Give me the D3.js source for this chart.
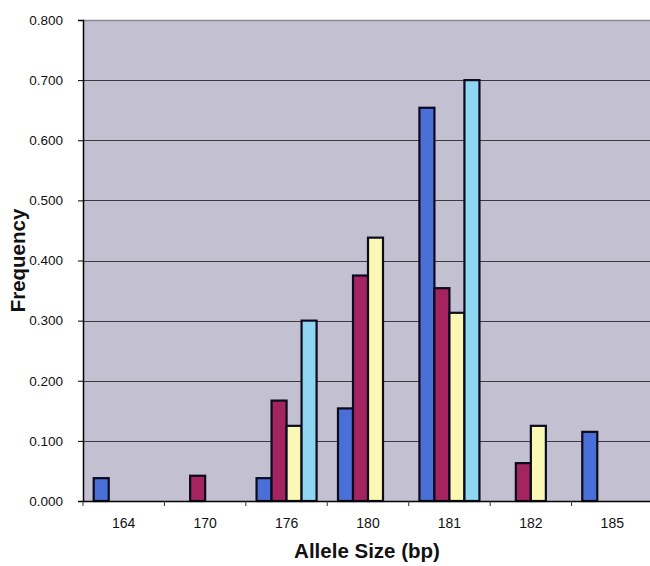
<!DOCTYPE html>
<html>
<head>
<meta charset="utf-8">
<script src="https://cdn.jsdelivr.net/npm/d3@7"></script>
<style>
  body { margin: 0; background: #fff; }
  text { font-family: "Liberation Sans", Arial, sans-serif; }
</style>
</head>
<body>
<div id="chart"></div>
<script>
// allele sizes on the x axis
const alleles = ["164", "170", "176", "180", "181", "182", "185"];
const seriesNames = ["s1", "s2", "s3", "s4"];
const colors = ["#4a6fd6", "#a3245e", "#fbf7b4", "#8fd6f2"];

// frequencies, one array per series
const s1 = [0.038, 0, 0.038, 0.154, 0.654, 0, 0.115];
const s2 = [0, 0.042, 0.167, 0.375, 0.354, 0.063, 0];
const s3 = [0, 0, 0.125, 0.438, 0.313, 0.125, 0];
const s4 = [0, 0, 0.300, 0, 0.700, 0, 0];
const values = [s1, s2, s3, s4];

const yTicks = [0, 0.1, 0.2, 0.3, 0.4, 0.5, 0.6, 0.7, 0.8];

const width = 650, height = 566;
const margin = {top: 20, right: -3, bottom: 65, left: 83};

const svg = d3.select("#chart").append("svg")
    .attr("width", width).attr("height", height);

const x0 = d3.scaleBand().domain(alleles)
    .range([margin.left, width - margin.right]);
const x1 = d3.scaleBand().domain(seriesNames)
    .range([10.7, x0.bandwidth() - 10.7]);
const y = d3.scaleLinear().domain([0, 0.8])
    .range([height - margin.bottom, margin.top]);

// plot background
svg.append("rect")
    .attr("x", margin.left).attr("y", margin.top)
    .attr("width", width - margin.left).attr("height", y(0) - margin.top)
    .attr("fill", "#c3c0d1");

// top edge
svg.append("line")
    .attr("x1", margin.left).attr("x2", width)
    .attr("y1", margin.top + 0.5).attr("y2", margin.top + 0.5)
    .attr("stroke", "#8c8a96").attr("stroke-width", 1.5);

// gridlines
svg.append("g").selectAll("line")
    .data(yTicks.slice(1, -1))
    .join("line")
    .attr("x1", margin.left).attr("x2", width)
    .attr("y1", d => Math.round(y(d)) + 0.5).attr("y2", d => Math.round(y(d)) + 0.5)
    .attr("stroke", "#3a3a40").attr("stroke-width", 1);

// bars
const groups = svg.append("g").selectAll("g")
    .data(alleles)
    .join("g")
    .attr("transform", d => `translate(${x0(d)},0)`);

groups.selectAll("rect")
    .data((d, i) => seriesNames.map((s, j) => ({s: s, j: j, v: values[j][i]})).filter(e => e.v > 0))
    .join("rect")
    .attr("x", d => x1(d.s))
    .attr("y", d => y(d.v))
    .attr("width", x1.bandwidth())
    .attr("height", d => y(0) - y(d.v))
    .attr("fill", d => colors[d.j])
    .attr("stroke", "#0b0b1e")
    .attr("stroke-width", 2.2);

// y axis
const yAxis = d3.axisLeft(y).tickValues(yTicks)
    .tickFormat(d3.format(".3f")).tickSize(5).tickPadding(15);
const gy = svg.append("g")
    .attr("transform", `translate(${margin.left},0)`)
    .call(yAxis);
gy.select(".domain").attr("stroke", "#000").attr("stroke-width", 1.5);
gy.selectAll("text").attr("font-size", 13.5).attr("fill", "#111");

// x axis
const xAxis = d3.axisBottom(x0).tickSize(0).tickPadding(17);
const gx = svg.append("g")
    .attr("transform", `translate(0,${y(0)})`)
    .call(xAxis);
gx.select(".domain").attr("stroke", "#000").attr("stroke-width", 1.5);
gx.selectAll("text").attr("font-size", 14).attr("fill", "#111");

// small tick marks between categories
svg.append("g").selectAll("line")
    .data(alleles)
    .join("line")
    .attr("x1", d => x0(d)).attr("x2", d => x0(d))
    .attr("y1", y(0)).attr("y2", y(0) + 5)
    .attr("stroke", "#333").attr("stroke-width", 1);

// axis titles
svg.append("text")
    .attr("x", 367)
    .attr("y", 558)
    .attr("text-anchor", "middle")
    .attr("font-size", 20.5).attr("font-weight", "bold")
    .attr("fill", "#111")
    .text("Allele Size (bp)");

svg.append("text")
    .attr("transform", `translate(25,${(margin.top + y(0)) / 2}) rotate(-90)`)
    .attr("text-anchor", "middle")
    .attr("font-size", 20.5).attr("font-weight", "bold")
    .attr("fill", "#111")
    .text("Frequency");
</script>
</body>
</html>
